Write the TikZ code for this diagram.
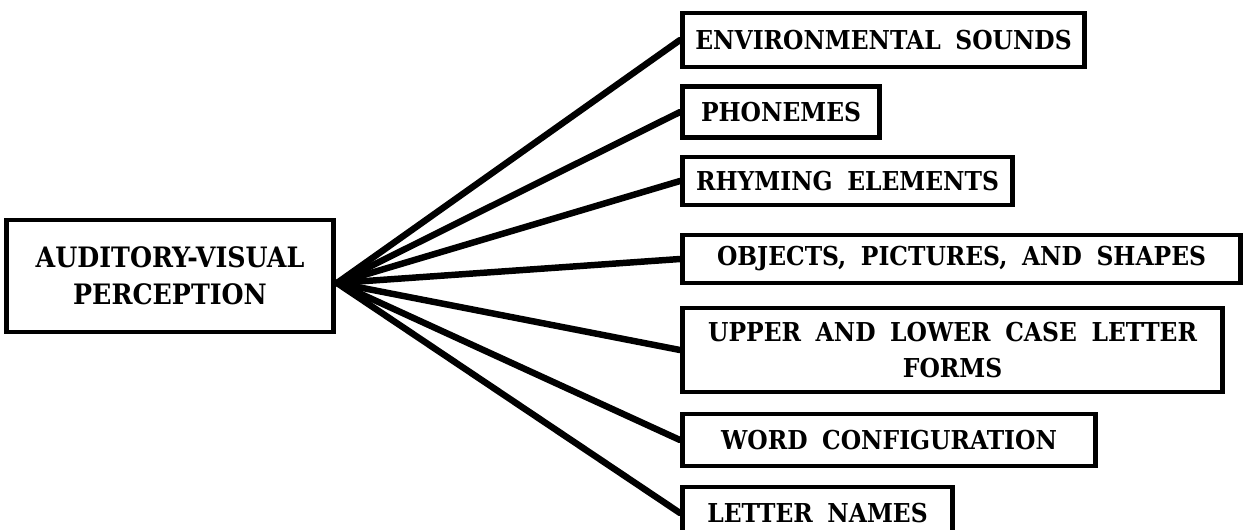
\documentclass[tikz,border=0pt]{standalone}
\usepackage{fontspec}
\setmainfont{DejaVu Serif Condensed}[WordSpace=1.8]
\usepackage{tikz}
\usetikzlibrary{positioning}

\begin{document}
\begin{tikzpicture}[
      x=0.025cm, y=-0.025cm,
      box/.style={rectangle, draw, line width=3.5pt, inner sep=0pt,
            align=center, font=\bfseries\fontsize{18.5}{26}\selectfont},
      item/.style={box, anchor=west, minimum height=1.25cm},
      link/.style={line width=4.6pt, line cap=round}
]
      \clip (0,0) rectangle (1246,529);

      \node[box, minimum width=8.15cm, minimum height=2.8cm,
            font=\bfseries\fontsize{20}{26}\selectfont] (avp) at (170,276)
            {AUDITORY-VISUAL\\PERCEPTION};
      \coordinate (hub) at (337,283);

      \node[item, minimum width=10.05cm, minimum height=1.35cm] (env) at (680,40) {ENVIRONMENTAL SOUNDS};
      \node[item, minimum width=4.925cm, minimum height=1.275cm] (phon) at (680,112) {PHONEMES};
      \node[item, minimum width=8.25cm, minimum height=1.2cm] (rhyme) at (680,181) {RHYMING ELEMENTS};
      \node[item, minimum width=13.95cm, minimum height=1.2cm] (obj) at (680,259) {OBJECTS, PICTURES, AND SHAPES};
      \node[item, minimum width=13.5cm, minimum height=2.1cm] (case) at (680,350)
            {UPPER AND LOWER CASE LETTER\\FORMS};
      \node[item, minimum width=10.325cm, minimum height=1.3cm] (word) at (680,440) {WORD CONFIGURATION};
      \node[item, minimum width=6.75cm, minimum height=1.3cm] (names) at (680,513) {LETTER NAMES};

      \draw[link] (avp.east |- hub) -- (hub);
      \foreach \t in {env, phon, rhyme, obj, case, word, names}
            \draw[link] (hub) -- (\t.west);
\end{tikzpicture}
\end{document}
